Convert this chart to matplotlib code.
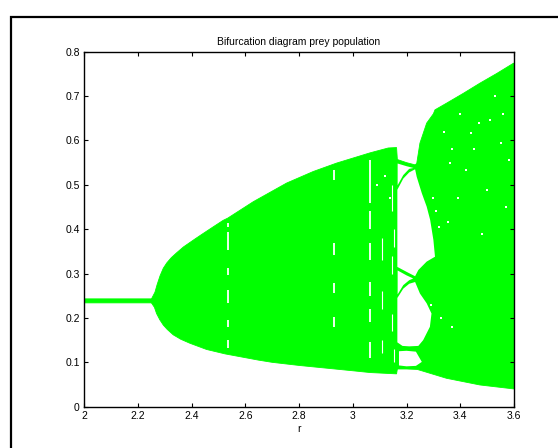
import numpy as np
import matplotlib
matplotlib.use("Agg")
import matplotlib.pyplot as plt
from matplotlib.patches import Rectangle

plt.rcParams['font.family'] = ['Liberation Sans', 'DejaVu Sans']

# outer envelope of the attractor
r_up = [2.0, 2.25, 2.252, 2.264, 2.272, 2.283, 2.295, 2.308, 2.325, 2.345, 2.37, 2.413, 2.44, 2.48,
        2.518, 2.535, 2.63, 2.754, 2.853, 2.94, 3.064, 3.132, 3.163, 3.166, 3.2, 3.232, 3.238,
        3.25, 3.275, 3.30, 3.306, 3.349, 3.411, 3.473, 3.536, 3.598, 3.6]
y_up = [0.243, 0.243, 0.244, 0.258, 0.275, 0.295, 0.312, 0.324, 0.336, 0.347, 0.360, 0.378, 0.389, 0.405,
        0.420, 0.425, 0.462, 0.504, 0.530, 0.549, 0.572, 0.583, 0.584, 0.557, 0.550, 0.545, 0.548,
        0.594, 0.639, 0.660, 0.669, 0.684, 0.706, 0.729, 0.751, 0.774, 0.774]
r_low = [2.0, 2.25, 2.252, 2.262, 2.270, 2.282, 2.295, 2.31, 2.332, 2.36, 2.394, 2.456, 2.525, 2.649,
         2.7, 2.8, 2.9, 3.0, 3.064, 3.13, 3.163, 3.166, 3.2, 3.24, 3.262, 3.349, 3.473, 3.6]
y_low = [0.234, 0.234, 0.233, 0.224, 0.210, 0.196, 0.184, 0.174, 0.162, 0.152, 0.143, 0.129, 0.119, 0.105,
         0.100, 0.093, 0.087, 0.081, 0.077, 0.075, 0.074, 0.085, 0.085, 0.084, 0.080, 0.064, 0.049, 0.040]

# empty regions between the period-doubling branches
holeA_r = [3.167, 3.2, 3.226, 3.21, 3.188, 3.167]
holeA_y = [0.548, 0.542, 0.538, 0.536, 0.522, 0.499]
holeB_r = [3.166, 3.188, 3.21, 3.232, 3.238, 3.257, 3.275, 3.288, 3.300, 3.306, 3.275, 3.244, 3.232, 3.2, 3.166]
holeB_y = [0.489, 0.514, 0.528, 0.535, 0.518, 0.481, 0.451, 0.421, 0.376, 0.338, 0.327, 0.308, 0.294, 0.304, 0.315]
holeC_r = [3.167, 3.2, 3.225, 3.21, 3.188, 3.167]
holeC_y = [0.307, 0.296, 0.289, 0.285, 0.274, 0.253]
holeD_r = [3.166, 3.188, 3.21, 3.232, 3.25, 3.275, 3.293, 3.287, 3.262, 3.244, 3.21, 3.185, 3.166]
holeD_y = [0.245, 0.266, 0.277, 0.281, 0.255, 0.233, 0.210, 0.180, 0.150, 0.137, 0.136, 0.137, 0.145]
holeE_r = [3.172, 3.2, 3.235, 3.257, 3.235, 3.2, 3.172]
holeE_y = [0.125, 0.126, 0.124, 0.101, 0.092, 0.091, 0.093]

# periodic windows (white streaks inside the chaotic band)
win1_r = [2.537] * 6 + [2.93] * 4 + [3.064] * 6
win1_lo = [0.405, 0.353, 0.297, 0.233, 0.180, 0.132,
           0.511, 0.342, 0.256, 0.180,
           0.460, 0.400, 0.330, 0.250, 0.190, 0.110]
win1_hi = [0.415, 0.394, 0.312, 0.262, 0.195, 0.150,
           0.533, 0.368, 0.278, 0.203,
           0.555, 0.440, 0.370, 0.280, 0.220, 0.145]
win2_r = [3.108, 3.108, 3.108, 3.145, 3.145, 3.145, 3.155, 3.155]
win2_lo = [0.330, 0.220, 0.120, 0.440, 0.300, 0.170, 0.360, 0.100]
win2_hi = [0.380, 0.260, 0.150, 0.500, 0.340, 0.210, 0.400, 0.130]

# larger white specks in the chaotic region
speck_r = [3.37, 3.47, 3.355, 3.30, 3.32, 3.29, 3.37, 3.40, 3.44, 3.51, 3.55, 3.58, 3.42, 3.50,
           3.31, 3.33, 3.36, 3.45, 3.53, 3.57, 3.34, 3.39, 3.48, 3.56, 3.12, 3.14, 3.09]
speck_y = [0.58, 0.64, 0.416, 0.47, 0.405, 0.23, 0.18, 0.66, 0.617, 0.646, 0.594, 0.556, 0.533, 0.488,
           0.44, 0.20, 0.55, 0.58, 0.70, 0.45, 0.62, 0.47, 0.39, 0.66, 0.52, 0.47, 0.50]

xticks = [2, 2.2, 2.4, 2.6, 2.8, 3, 3.2, 3.4, 3.6]
yticks = [0, 0.1, 0.2, 0.3, 0.4, 0.5, 0.6, 0.7, 0.8]

green = '#00ff00'

fig = plt.figure(figsize=(5.58, 4.48), dpi=100)
ax = fig.add_axes([84/558, 1-406.7/448, 430/558, 355/448])

ax.fill(np.r_[r_up, r_low[::-1]], np.r_[y_up, y_low[::-1]], color=green, lw=0.6, ec=green)
for hr, hy in [(holeA_r, holeA_y), (holeB_r, holeB_y), (holeC_r, holeC_y),
               (holeD_r, holeD_y), (holeE_r, holeE_y)]:
    ax.fill(hr, hy, color='white', lw=0)
ax.vlines(win1_r, win1_lo, win1_hi, colors='white', lw=1.3)
ax.vlines(win2_r, win2_lo, win2_hi, colors='white', lw=0.8)
ax.scatter(speck_r, speck_y, s=2.5, marker='s', c='white', lw=0)

ax.set_xlim(2, 3.6)
ax.set_ylim(0, 0.8)
ax.set_xticks(xticks)
ax.set_xticklabels(['%g' % t for t in xticks])
ax.set_yticks(yticks)
ax.set_yticklabels(['%g' % t for t in yticks])
ax.tick_params(direction='in', top=True, right=True, length=3, width=0.8, labelsize=7.5, pad=3)
for s in ax.spines.values():
    s.set_linewidth(1.0)
ax.set_title('Bifurcation diagram prey population', fontsize=7.5, pad=5)
ax.set_xlabel('r', fontsize=7.5, labelpad=2)

# frame around the whole figure (cut off at right and bottom)
fig.patches.append(Rectangle((10.5/558, -0.2), 1.2, 1.2 - 16.8/448, transform=fig.transFigure,
                             fill=False, ec='black', lw=1.6, clip_on=False))

fig.savefig('out.png', dpi=100)
